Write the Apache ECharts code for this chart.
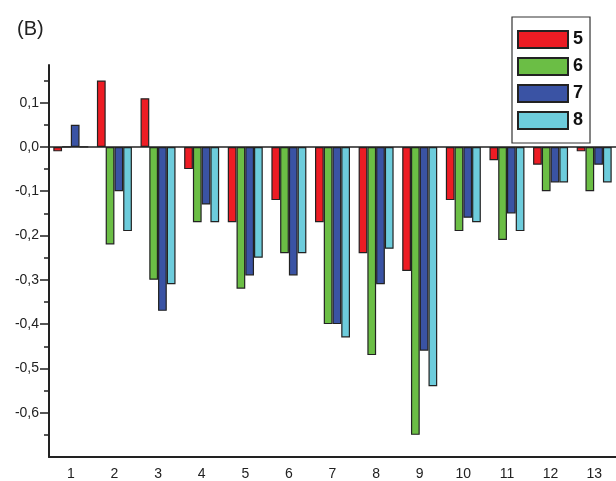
<!DOCTYPE html>
<html>
<head>
<meta charset="utf-8">
<script src="https://cdn.jsdelivr.net/npm/echarts@6/dist/echarts.min.js"></script>
<style>
html,body{margin:0;padding:0;background:#fff;}
#c{width:616px;height:481px;}
</style>
</head>
<body>
<div id="c"></div>
<script>
const categories = ['1','2','3','4','5','6','7','8','9','10','11','12','13'];
const seriesNames = ['5','6','7','8'];
const s5 = [-0.01, 0.15, 0.11, -0.05, -0.17, -0.12, -0.17, -0.24, -0.28, -0.12, -0.03, -0.04, -0.01];
const s6 = [0, -0.22, -0.30, -0.17, -0.32, -0.24, -0.40, -0.47, -0.65, -0.19, -0.21, -0.10, -0.10];
const s7 = [0.05, -0.10, -0.37, -0.13, -0.29, -0.29, -0.40, -0.31, -0.46, -0.16, -0.15, -0.08, -0.04];
const s8 = [0, -0.19, -0.31, -0.17, -0.25, -0.24, -0.43, -0.23, -0.54, -0.17, -0.19, -0.08, -0.08];
const yTickValues = [-0.6, -0.5, -0.4, -0.3, -0.2, -0.1, 0, 0.1];
const colors = ['#ED1C24', '#6BBE45', '#3A53A4', '#6DCCDC'];

const chart = echarts.init(document.getElementById('c'), null, {renderer: 'canvas'});
const dataSets = [s5, s6, s7, s8];
const font = 'Liberation Sans, Arial, sans-serif';

const series = dataSets.map((d, i) => ({
  name: seriesNames[i],
  type: 'bar',
  data: d,
  xAxisIndex: 0,
  yAxisIndex: 0,
  barWidth: 8.75,
  barGap: '0%',
  itemStyle: {color: colors[i], borderColor: '#222', borderWidth: 1.2},
  emphasis: {disabled: true},
  markLine: i === 0 ? {
    silent: true,
    symbol: 'none',
    label: {show: false},
    lineStyle: {color: '#222', width: 1.5, type: 'solid'},
    data: [{yAxis: 0}]
  } : undefined
}));

chart.setOption({
  animation: false,
  title: {
    text: '(B)', left: 12, top: 14,
    textStyle: {fontFamily: font, fontSize: 20, fontWeight: 'normal', color: '#222'}
  },
  legend: {
    orient: 'vertical',
    left: 512, top: 17,
    padding: [13, 7, 13, 5],
    borderColor: '#333', borderWidth: 1.2,
    itemWidth: 50, itemHeight: 17, itemGap: 8,
    icon: 'rect',
    data: seriesNames,
    textStyle: {fontFamily: font, fontSize: 18, fontWeight: 'bold', color: '#111'}
  },
  grid: {left: 49, top: 65, width: 568.75, height: 393, containLabel: false},
  xAxis: [{
    type: 'category',
    data: categories,
    position: 'bottom',
    axisLine: {onZero: false, lineStyle: {color: '#222', width: 2}},
    axisTick: {alignWithLabel: true, length: 8, lineStyle: {color: '#222', width: 1.5}},
    axisLabel: {margin: 10, fontFamily: font, fontSize: 14, color: '#222'},
    splitLine: {show: false}
  }, {
    type: 'category',
    data: categories,
    position: 'bottom',
    axisLine: {show: false, onZero: false},
    axisTick: {alignWithLabel: false, length: 5, lineStyle: {color: '#222', width: 1.5}},
    axisLabel: {show: false},
    splitLine: {show: false}
  }],
  yAxis: {
    type: 'value',
    min: -0.7, max: 0.185, interval: 0.1,
    axisLine: {show: true, lineStyle: {color: '#222', width: 2}},
    axisTick: {show: true, length: 9, customValues: yTickValues, lineStyle: {color: '#222', width: 1.5}},
    minorTick: {show: true, splitNumber: 2, length: 5, lineStyle: {color: '#222', width: 1.5}},
    axisLabel: {
      margin: 10, fontFamily: font, fontSize: 14, color: '#222',
      customValues: yTickValues,
      formatter: v => (Math.abs(v) < 1e-9 ? 0 : v).toFixed(1).replace('.', ',')
    },
    splitLine: {show: false}
  },
  series: series
});
</script>
</body>
</html>
